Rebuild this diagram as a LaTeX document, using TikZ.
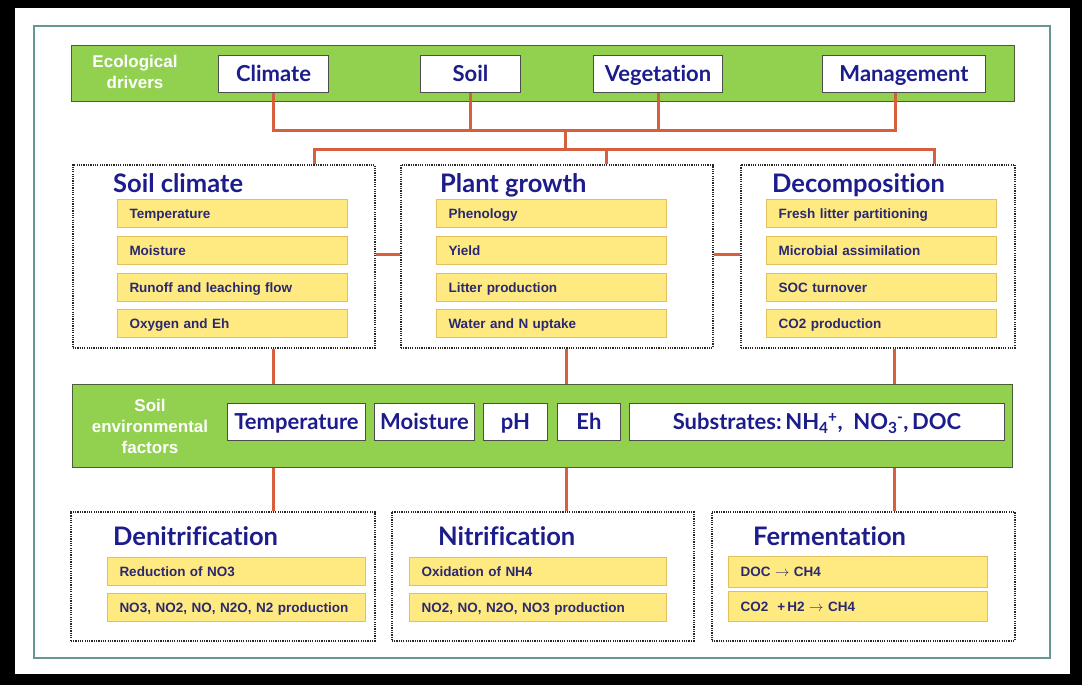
\documentclass[tikz,border=0pt]{standalone}
\usepackage{fontspec}
\setmainfont{Liberation Sans}
\newfontfamily\titlefont[Ligatures={NoCommon,NoRare}]{Lato}
\usetikzlibrary{calc}
\definecolor{barGreen}{RGB}{146,208,80}
\definecolor{barEdge}{RGB}{75,95,55}
\definecolor{yel}{RGB}{255,234,130}
\definecolor{yelEdge}{RGB}{226,192,96}
\definecolor{navy}{RGB}{28,28,140}
\definecolor{ytext}{RGB}{42,40,112}
\definecolor{linkc}{RGB}{214,96,62}
\definecolor{framec}{RGB}{104,150,146}
\newcommand{\mysubsup}[2]{\textsubscript{#1}\kern-0.5pt\textsuperscript{#2}}
\begin{document}
\begin{tikzpicture}[x=1pt,y=-1pt,
  gbar/.style={fill=barGreen,draw=barEdge,line width=1.2pt,anchor=north west,inner sep=0pt},
  glabel/.style={text=white,font=\bfseries\fontsize{17}{21}\selectfont,align=center},
  drv/.style={fill=white,draw=black!70,line width=1pt,anchor=north west,inner sep=0pt,
    minimum height=37pt,text height=20pt,text depth=4.5pt,text=navy,
    font=\titlefont\bfseries\fontsize{22}{26}\selectfont},
  dbox/.style={draw=black!85,line width=1.5pt,dash pattern=on 1.2pt off 1.1pt,anchor=north west,inner sep=0pt},
  ttl/.style={anchor=base west,text=navy,inner sep=0pt,font=\titlefont\bfseries\fontsize{25.5}{30}\selectfont},
  ybox/.style={fill=yel,draw=yelEdge,line width=1pt,anchor=north west,inner xsep=12pt,inner ysep=0pt,
    minimum height=28pt,text height=13pt,text depth=3.3pt,align=left,text=ytext,
    font=\bfseries\fontsize{13.5}{15}\selectfont},
  linkl/.style={draw=linkc,line width=3pt}
]
\useasboundingbox (0,0) rectangle (1082,685);
\fill[black] (0,0) rectangle (1082,685);
\fill[white] (15,8) rectangle (1070,674);
\draw[framec,line width=2.5pt] (34,26) rectangle (1050,658);

% ---------- Ecological drivers ----------
\node[gbar,minimum width=943pt,minimum height=56pt] (drvbar) at (71,45) {};
\node[glabel] (drvlab) at (135,72) {Ecological\\drivers};
\node[drv,minimum width=110pt] (climate) at (218,55) {Climate};
\node[drv,minimum width=100pt] (soil) at (420,55) {Soil};
\node[drv,minimum width=129pt] (veg) at (593,55) {Vegetation};
\node[drv,minimum width=163pt] (mgmt) at (822,55) {Management};

% ---------- middle process boxes ----------
\node[dbox,minimum width=302pt,minimum height=183pt] (sclim) at (72,164) {};
\node[dbox,minimum width=312pt,minimum height=183pt] (pg) at (400,164) {};
\node[dbox,minimum width=274pt,minimum height=183pt] (dec) at (740,164) {};
\node[ttl] (sclimT) at (113,192) {Soil climate};
\node[ttl] (pgT) at (440,192) {Plant growth};
\node[ttl] (decT) at (772,192) {Decomposition};

\node[ybox,text width=206pt] (sc1) at (117,199) {Temperature};
\node[ybox,text width=206pt] (sc2) at (117,236) {Moisture};
\node[ybox,text width=206pt] (sc3) at (117,273) {Runoff and leaching flow};
\node[ybox,text width=206pt] (sc4) at (117,309) {Oxygen and Eh};

\node[ybox,text width=206pt] (pg1) at (436,199) {Phenology};
\node[ybox,text width=206pt] (pg2) at (436,236) {Yield};
\node[ybox,text width=206pt] (pg3) at (436,273) {Litter production};
\node[ybox,text width=206pt] (pg4) at (436,309) {Water and N uptake};

\node[ybox,text width=206pt] (dc1) at (766,199) {Fresh litter partitioning};
\node[ybox,text width=206pt] (dc2) at (766,236) {Microbial assimilation};
\node[ybox,text width=206pt] (dc3) at (766,273) {SOC turnover};
\node[ybox,text width=206pt] (dc4) at (766,309) {CO2 production};

% ---------- Soil environmental factors ----------
\node[gbar,minimum width=940pt,minimum height=83pt] (envbar) at (72,384) {};
\node[glabel] (envlab) at (150,426) {Soil\\environmental\\factors};
\node[drv,minimum width=138pt] (eT) at (227,403) {Temperature};
\node[drv,minimum width=100pt] (eM) at (374,403) {Moisture};
\node[drv,minimum width=64pt] (ePH) at (483,403) {pH};
\node[drv,minimum width=63pt] (eEH) at (557,403) {Eh};
\node[drv,minimum width=375pt] (eS) at (629,403) {Substrates:\,NH\mysubsup{4}{+},\ \ NO\mysubsup{3}{-},\,DOC};

% ---------- bottom process boxes ----------
\node[dbox,minimum width=304pt,minimum height=129pt] (denit) at (70,511) {};
\node[dbox,minimum width=302pt,minimum height=129pt] (nitr) at (391,511) {};
\node[dbox,minimum width=303pt,minimum height=129pt] (ferm) at (711,511) {};
\node[ttl] (denitT) at (113,545) {Denitrification};
\node[ttl] (nitrT) at (438,545) {Nitrification};
\node[ttl] (fermT) at (753,545) {Fermentation};

\node[ybox,text width=234pt] (dn1) at (107,557) {Reduction of NO3};
\node[ybox,text width=234pt] (dn2) at (107,593) {NO3, NO2, NO, N2O, N2 production};
\node[ybox,text width=233pt] (ni1) at (409,557) {Oxidation of NH4};
\node[ybox,text width=233pt] (ni2) at (409,593) {NO2, NO, N2O, NO3 production};
\node[ybox,text width=235pt,minimum height=31pt] (fe1) at (728,556) {DOC $\rightarrow$ CH4};
\node[ybox,text width=235pt,minimum height=30pt] (fe2) at (728,591) {CO2 \ +\,H2 $\rightarrow$ CH4};

% ---------- connectors ----------
\coordinate (bus1) at (565,130);
\coordinate (bus2) at (565,149);
\coordinate (b2L) at (314,149);
\coordinate (b2P) at (606,149);
\coordinate (b2R) at (934,149);
\coordinate (hy) at (0,254);
\coordinate (c1) at (273,0);
\coordinate (c2) at (566,0);
\coordinate (c3) at (894,0);
\coordinate (mgx) at (895,0);

\draw[linkl] (climate.south) -- (climate.south |- bus1) -- (mgx |- bus1) -- (mgx |- mgmt.south);
\draw[linkl] (soil.south) -- (soil.south |- bus1);
\draw[linkl] (veg.south) -- (veg.south |- bus1);
\draw[linkl] (bus1) -- (bus2);
\draw[linkl] (b2L |- sclim.north) -- (b2L) -- (b2R) -- (b2R |- dec.north);
\draw[linkl] (b2P) -- (b2P |- pg.north);

\draw[linkl] (sclim.east |- hy) -- (pg.west |- hy);
\draw[linkl] (pg.east |- hy) -- (dec.west |- hy);

\draw[linkl] (c1 |- sclim.south) -- (c1 |- envbar.north);
\draw[linkl] (c2 |- pg.south) -- (c2 |- envbar.north);
\draw[linkl] (c3 |- dec.south) -- (c3 |- envbar.north);
\draw[linkl] (c1 |- envbar.south) -- (c1 |- denit.north);
\draw[linkl] (c2 |- envbar.south) -- (c2 |- nitr.north);
\draw[linkl] (c3 |- envbar.south) -- (c3 |- ferm.north);
\end{tikzpicture}
\end{document}
